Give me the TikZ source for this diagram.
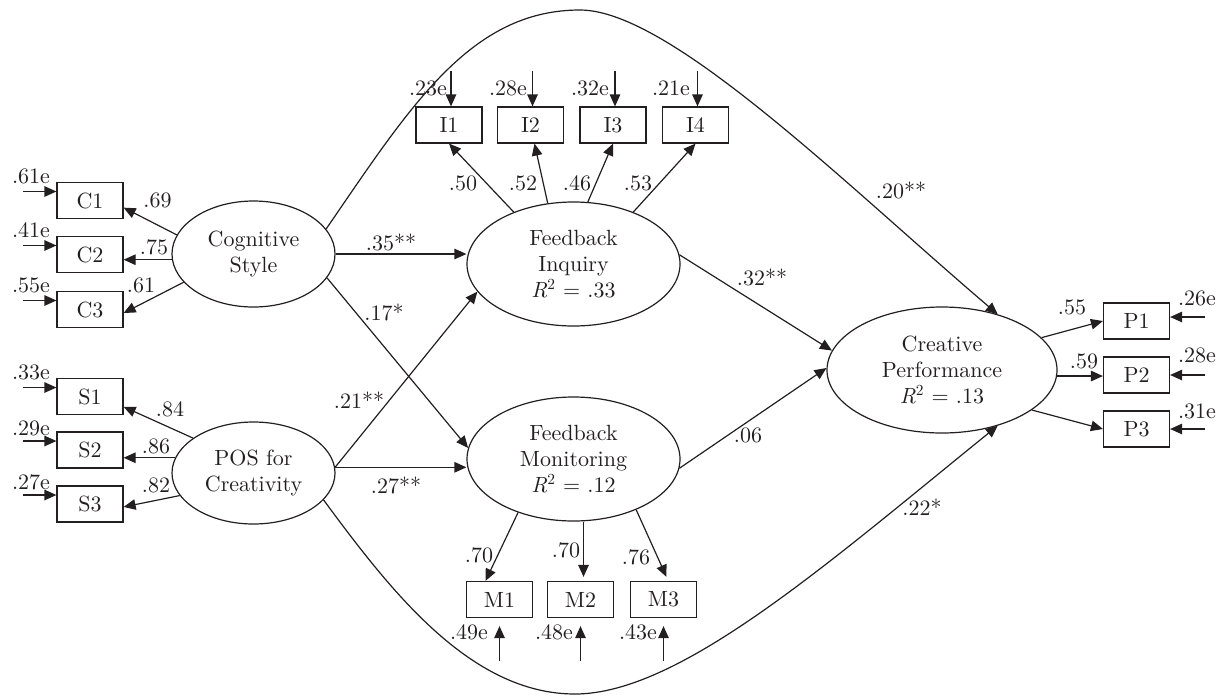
\documentclass[tikz,border=0pt]{standalone}
\usepackage{fontspec}
\setmainfont{lmroman10-regular.otf}[ItalicFont=lmroman10-italic.otf]
\usetikzlibrary{arrows.meta,shapes.geometric,calc}
\definecolor{ink}{HTML}{231F20}
\newcommand{\figfont}{\fontsize{22}{26}\selectfont}
\begin{document}
\begin{tikzpicture}[x=1pt,y=-1pt,line width=1.2pt,color=ink,font=\figfont,
  box/.style={draw,rectangle,minimum width=66pt,minimum height=36pt,inner sep=0pt},
  lat/.style={draw,ellipse,inner sep=0pt,align=center},
  lab/.style={inner sep=0pt},
  arr/.style={-{Triangle[length=12pt,width=10.5pt]}}]
\useasboundingbox (0,0) rectangle (1220,697);

% latent variables
\node[lat,minimum width=163pt,minimum height=106pt] (cs) at (253.5,254) {Cognitive\\Style};
\node[lat,minimum width=163pt,minimum height=102pt] (pos) at (253.5,473) {POS for\\Creativity};
\node[lat,minimum width=213pt,minimum height=124pt] (fi) at (573.5,264) {Feedback\\Inquiry\\\textit{R}\textsuperscript{2} = .33};
\node[lat,minimum width=213pt,minimum height=124pt] (fm) at (573.5,459) {Feedback\\Monitoring\\\textit{R}\textsuperscript{2} = .12};
\node[lat,minimum width=230pt,minimum height=126pt] (cp) at (942,370) {Creative\\Performance\\\textit{R}\textsuperscript{2} = .13};

% indicators
\node[box] (c1) at (90,200.5) {C1};
\node[box] (c2) at (90,254.5) {C2};
\node[box] (c3) at (90,309.5) {C3};
\node[box] (s1) at (90,396.5) {S1};
\node[box] (s2) at (90,450) {S2};
\node[box] (s3) at (90,504) {S3};
\node[box] (i1) at (449,125) {I1};
\node[box] (i2) at (530.5,125) {I2};
\node[box] (i3) at (613,125) {I3};
\node[box] (i4) at (695.5,125) {I4};
\node[box] (m1) at (499.5,599.5) {M1};
\node[box] (m2) at (580.5,599.5) {M2};
\node[box] (m3) at (663.5,599.5) {M3};
\node[box] (p1) at (1136.5,321) {P1};
\node[box] (p2) at (1136.5,375) {P2};
\node[box] (p3) at (1136.5,429) {P3};

% error arrows
\foreach \b in {c1,c2,c3,s1,s2,s3}
  \draw[arr] ($(\b.west)+(-33,-9)$) -- ($(\b.west)+(0,-9)$);
\foreach \b in {i1,i2,i3,i4}
  \draw[arr] ($(\b.north)+(2,-35)$) -- ($(\b.north)+(2,0)$);
\foreach \b in {m1,m2,m3}
  \draw[arr] ($(\b.south)+(0,43)$) -- ($(\b.south)+(0,8)$);
\draw[arr] ($(p1.east)+(35,-4)$) -- ($(p1.east)+(0,-4)$);
\draw[arr] ($(p2.east)+(35,0)$) -- ($(p2.east)+(0,0)$);
\draw[arr] ($(p3.east)+(35,0)$) -- ($(p3.east)+(0,0)$);

\node[lab] at (31,176) {.61e};
\node[lab] at (31,230) {.41e};
\node[lab] at (31,285) {.55e};
\node[lab] at (31,372) {.33e};
\node[lab] at (31,428) {.29e};
\node[lab] at (31,482) {.27e};
\node[lab] at (428,88) {.23e};
\node[lab] at (508,88) {.28e};
\node[lab] at (590,88) {.32e};
\node[lab] at (671,88) {.21e};
\node[lab] at (469,632) {.49e};
\node[lab] at (554,632) {.48e};
\node[lab] at (638,632) {.43e};
\node[lab] at (1197,298) {.26e};
\node[lab] at (1197,355) {.28e};
\node[lab] at (1197,411) {.31e};

% loadings
\draw[arr] (cs.166) -- (c1.-12);
\draw[arr] (cs.184) -- (cs.184 -| c2.east);
\draw[arr] (cs.202) -- (c3.-6);
\draw[arr] (pos.150) -- (s1.-17);
\draw[arr] (pos.169) -- (pos.169 -| s2.east);
\draw[arr] (pos.197) -- (s3.-5);
\draw[arr] (fi.139) -- (i1.south);
\draw[arr] (fi.113) -- ($(i2.south)+(4,0)$);
\draw[arr] (fi.77) -- (i3.south);
\draw[arr] (fi.41) -- (i4.south);
\coordinate (m2t) at ($(m2.north)+(3,-4)$);
\draw[arr] (fm.224) -- ($(m1.north)+(-14,0)$);
\draw[arr] (m2t |- fm.south) -- (m2t);
\draw[arr] (fm.-39) -- ($(m3.north)+(3,-4)$);
\draw[arr] (cp.18) -- (p1.west);
\draw[arr] (cp.-3) -- (cp.-3 -| p2.west);
\draw[arr] (cp.-24) -- (p3.west);

\node[lab] at (157.5,200) {.69};
\node[lab] at (154,247) {.75};
\node[lab] at (141,285) {.61};
\node[lab] at (170,409) {.84};
\node[lab] at (156,446) {.86};
\node[lab] at (156,485) {.82};
\node[lab] at (463,183) {.50};
\node[lab] at (523,183) {.52};
\node[lab] at (577,183) {.46};
\node[lab] at (638,183) {.53};
\node[lab] at (479,555) {.70};
\node[lab] at (566,550) {.70};
\node[lab] at (636,557) {.76};
\node[lab] at (1072,307) {.55};
\node[lab] at (1084,361) {.59};

% structural paths
\draw[arr] (cs.east) -- (cs.east -| fi.west);
\draw[arr] (cs.-18) -- (fm.174);
\draw[arr] (pos.4) -- (fi.196);
\draw[arr] (pos.4) -- (pos.4 -| fm.west);
\draw[arr] (fi.5) -- (cp.170);
\draw[arr] (fm.-5) -- (cp.179);
\coordinate (top) at (580,10);
\coordinate (bot) at (575,694);
\draw[arr] (cs.19) .. controls (410,107) and (470,10) .. (top)
  .. controls (670,10) and (846,185) .. (cp.45);
\draw[arr] (pos.-21) .. controls (390,590) and (470,694) .. (bot)
  .. controls (680,694) and (828,563) .. (cp.-45);

\node[lab] at (391,242) {.35**};
\node[lab] at (384,312) {.17*};
\node[lab] at (359,400) {.21**};
\node[lab] at (396,485) {.27**};
\node[lab] at (762,277) {.32**};
\node[lab] at (748,435) {.06};
\node[lab] at (901,190) {.20**};
\node[lab] at (922,507) {.22*};
\end{tikzpicture}
\end{document}
